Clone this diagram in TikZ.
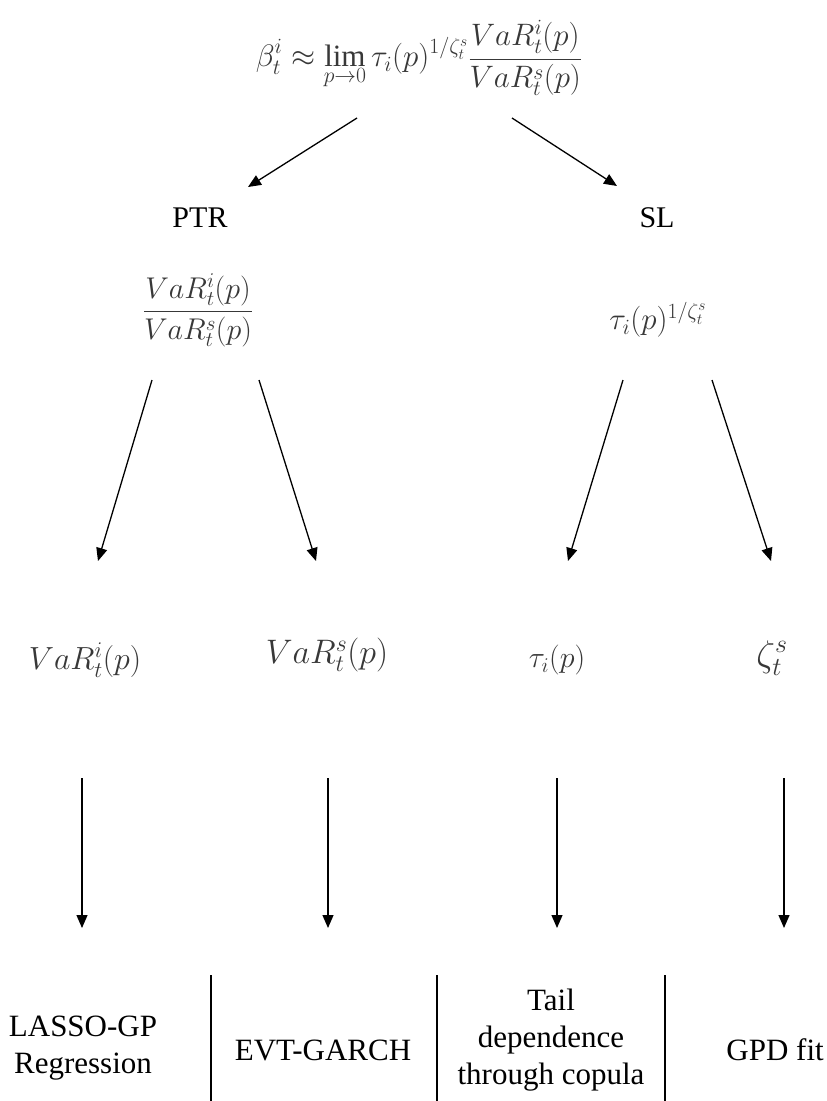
\RequirePackage{fix-cm}
\documentclass[tikz,border=0pt]{standalone}
\usepackage{fontspec}
\setmainfont{Liberation Serif}
\usetikzlibrary{arrows.meta}
\tikzset{
  mathlbl/.style={text=black!78, inner sep=0pt, font=\fontsize{30}{34}\selectfont},
  mathbig/.style={text=black!78, inner sep=0pt, font=\fontsize{32}{36}\selectfont},
  toplbl/.style={inner sep=0pt, font=\fontsize{30}{35}\selectfont},
  method/.style={inner sep=0pt, align=center, font=\fontsize{31}{37}\selectfont},
  link/.style={line width=1.3pt, -{Triangle[length=13pt,width=11pt]}},
  sep/.style={line width=1.1pt}
}
\begin{document}
\begin{tikzpicture}[x=1pt,y=-1pt]
\useasboundingbox (0,0) rectangle (827,1101);

% headline formula
\node[mathlbl, font=\fontsize{31}{35}\selectfont] (beta) at (419,58)
  {$\displaystyle \beta_t^i \approx \lim_{p\to 0}\tau_i(p)^{1/\zeta_t^s}\frac{VaR_t^i(p)}{VaR_t^s(p)}$};

% two branches
\node[toplbl] (ptr) at (200,218) {PTR};
\node[toplbl] (sl)  at (657,218) {SL};
\node[mathlbl] (ratio) at (198,310) {$\displaystyle\frac{VaR_t^i(p)}{VaR_t^s(p)}$};
\node[mathlbl, font=\fontsize{31}{35}\selectfont] (tail) at (658,320) {$\tau_i(p)^{1/\zeta_t^s}$};

% components
\node[mathbig] (vari) at (85,660) {$VaR_t^i(p)$};
\node[mathbig, font=\fontsize{34}{38}\selectfont] (vars) at (327,655) {$VaR_t^s(p)$};
\node[mathlbl] (tau)  at (557,660) {$\tau_i(p)$};
\node[mathbig, font=\fontsize{37}{40}\selectfont] (zeta) at (772,658) {$\zeta_t^s$};

% estimation methods
\node[method] (lasso) at (83,1048) {LASSO-GP\\Regression};
\node[method] (evt)   at (323,1050) {EVT-GARCH};
\node[method] (cop)   at (551,1040) {Tail\\dependence\\through copula};
\node[method, anchor=east] (gpd) at (824,1050) {GPD fit};

% arrow end points
\coordinate (b1) at (357,118); \coordinate (p1) at (248,187);
\coordinate (b2) at (512,118); \coordinate (s1) at (617,186);
\coordinate (r1) at (152,380); \coordinate (vi1) at (98,561);
\coordinate (r2) at (259,380); \coordinate (vs1) at (316,561);
\coordinate (t1) at (623,380); \coordinate (ta1) at (568,561);
\coordinate (t2) at (712,380); \coordinate (z1) at (771,561);
\coordinate (vi2) at (82,778); \coordinate (la) at (82,928);
\coordinate (vs2) at (328,778); \coordinate (ev) at (328,928);
\coordinate (ta2) at (557,778); \coordinate (co) at (557,928);
\coordinate (z2) at (784,778); \coordinate (gp) at (784,928);

\draw[link] (b1) -- (p1);
\draw[link] (b2) -- (s1);
\draw[link] (r1) -- (vi1);
\draw[link] (r2) -- (vs1);
\draw[link] (t1) -- (ta1);
\draw[link] (t2) -- (z1);
\draw[link] (vi2) -- (la);
\draw[link] (vs2) -- (ev);
\draw[link] (ta2) -- (co);
\draw[link] (z2) -- (gp);

% column separators
\coordinate (c1t) at (211,975); \coordinate (c1b) at (211,1101);
\coordinate (c2t) at (437,975); \coordinate (c2b) at (437,1101);
\coordinate (c3t) at (665,975); \coordinate (c3b) at (665,1101);
\draw[sep] (c1t) -- (c1b);
\draw[sep] (c2t) -- (c2b);
\draw[sep] (c3t) -- (c3b);
\end{tikzpicture}
\end{document}
